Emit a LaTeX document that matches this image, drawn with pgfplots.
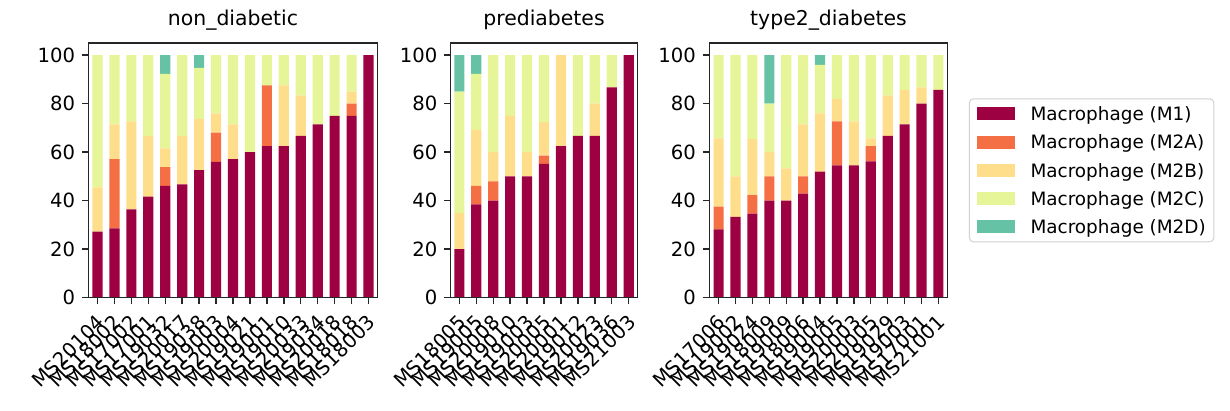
\documentclass[border=0pt]{standalone}
\usepackage{fontspec}
\setmainfont{DejaVu Sans}
\usepackage{pgfplots}
\usepackage{pgfplotstable}
\pgfplotsset{compat=1.18}
\definecolor{cMA}{RGB}{158,1,66}
\definecolor{cMB}{RGB}{245,111,68}
\definecolor{cMC}{RGB}{254,222,139}
\definecolor{cMD}{RGB}{230,245,152}
\definecolor{cME}{RGB}{102,194,165}
\definecolor{spine}{RGB}{38,38,38}

\pgfplotstableread{
x name M1 M2A M2B M2C M2D
0 MS20104 27.27 0 18.18 54.55 0
1 MS18002 28.57 28.57 14.29 28.57 0
2 MS17002 36.36 0 36.36 27.27 0
3 MS17001 41.67 0 25.00 33.33 0
4 MS19032 46.15 7.69 7.69 30.77 7.69
5 MS20017 46.67 0 20.00 33.33 0
6 MS19038 52.63 0 21.05 21.05 5.26
7 MS19003 56.00 12.00 8.00 24.00 0
8 MS20004 57.14 0 14.29 28.57 0
9 MS19021 60.00 0 0 40.00 0
10 MS19001 62.50 25.00 0 12.50 0
11 MS19010 62.50 0 25.00 12.50 0
12 MS20033 66.67 0 16.67 16.67 0
13 MS19034 71.43 0 0 28.57 0
14 MS20018 75.00 0 0 25.00 0
15 MS18018 75.00 5.00 5.00 15.00 0
16 MS18003 100 0 0 0 0
}\tA

\pgfplotstableread{
x name M1 M2A M2B M2C M2D
0 MS18005 20.00 0 15.00 50.00 15.00
1 MS19005 38.46 7.69 23.08 23.08 7.69
2 MS20008 40.00 8.00 12.00 40.00 0
3 MS19010 50.00 0 25.00 25.00 0
4 MS19003 50.00 0 10.00 40.00 0
5 MS20005 55.17 3.45 13.79 27.59 0
6 MS20001 62.50 0 37.50 0 0
7 MS19012 66.67 0 0 33.33 0
8 MS20023 66.67 0 13.33 20.00 0
9 MS19036 86.67 0 0 13.33 0
10 MS21003 100 0 0 0 0
}\tB

\pgfplotstableread{
x name M1 M2A M2B M2C M2D
0 MS17006 28.13 9.38 28.13 34.38 0
1 MS19002 33.33 0 16.67 50.00 0
2 MS19024 34.62 7.69 23.08 34.62 0
3 MS18009 40.00 10.00 10.00 20.00 20.00
4 MS19009 40.00 0 13.33 46.67 0
5 MS18006 42.86 7.14 21.43 28.57 0
6 MS19004 52.00 0 24.00 20.00 4.00
7 MS19005 54.55 18.18 9.09 18.18 0
8 MS20003 54.55 0 18.18 27.27 0
9 MS20005 56.25 6.25 3.13 34.38 0
10 MS19029 66.67 0 16.67 16.67 0
11 MS19003 71.43 0 14.29 14.29 0
12 MS17001 80.00 0 6.67 13.33 0
13 MS21001 85.71 0 0 14.29 0
}\tC

\pgfplotsset{
  panel/.style={
    ybar stacked, bar width=0.6,
    scale only axis, height=127.35pt,
    ymin=0, ymax=105, ytick={0,20,40,60,80,100},
    enlarge x limits=false,
    tick align=outside, tick pos=left, major tick length=3.2pt,
    axis line style={spine, line width=0.75pt},
    every tick/.style={spine, line width=0.7pt},
    tick label style={font=\fontsize{9.8}{11}\selectfont, text=black},
    /pgf/number format/assume math mode=true,
    xticklabel style={rotate=45, anchor=north east, inner sep=1pt, xshift=-3pt, yshift=-1.5pt},
    title style={font=\fontsize{10.2}{12}\selectfont, anchor=base, at={(0.5,1)}, yshift=2.65pt},
    axis on top,
  },
  lg/.style={legend image code/.code={\fill[#1, /tikz/.cd, draw=none, rounded corners=0pt] (0pt,-3.25pt) rectangle (18.7pt,3.25pt);}},
}

\begin{document}
\begin{tikzpicture}
\useasboundingbox (0,0) rectangle (615pt,-205.5pt);

\begin{axis}[panel, at={(44.25pt,-21.5pt)}, anchor=north west, width=144.5pt,
  xmin=-0.53, xmax=16.53, xtick={0,...,16}, xticklabels from table={\tA}{name},
  title={non\_diabetic}]
\addplot[fill=cMA, draw=none] table[x=x, y=M1] {\tA};
\addplot[fill=cMB, draw=none] table[x=x, y=M2A] {\tA};
\addplot[fill=cMC, draw=none] table[x=x, y=M2B] {\tA};
\addplot[fill=cMD, draw=none] table[x=x, y=M2C] {\tA};
\addplot[fill=cME, draw=none] table[x=x, y=M2D] {\tA};
\end{axis}

\begin{axis}[panel, at={(225.35pt,-21.5pt)}, anchor=north west, width=93.3pt,
  xmin=-0.51, xmax=10.51, xtick={0,...,10}, xticklabels from table={\tB}{name},
  title={prediabetes}]
\addplot[fill=cMA, draw=none] table[x=x, y=M1] {\tB};
\addplot[fill=cMB, draw=none] table[x=x, y=M2A] {\tB};
\addplot[fill=cMC, draw=none] table[x=x, y=M2B] {\tB};
\addplot[fill=cMD, draw=none] table[x=x, y=M2C] {\tB};
\addplot[fill=cME, draw=none] table[x=x, y=M2D] {\tB};
\end{axis}

\begin{axis}[panel, at={(354.65pt,-21.5pt)}, anchor=north west, width=119.2pt,
  xmin=-0.55, xmax=13.55, xtick={0,...,13}, xticklabels from table={\tC}{name},
  title={type2\_diabetes},
  legend cell align=left,
  legend style={at={(1.089,0.5)}, anchor=west, draw=black!18, line width=0.5pt,
    rounded corners=2pt, inner xsep=4pt, inner ysep=1.8pt,
    font=\fontsize{9.2}{11}\selectfont, row sep=2.85pt,
    nodes={inner sep=0pt, text height=9.0pt, text depth=2.3pt, anchor=west},
    /tikz/every odd column/.style={column sep=7.85pt}}]
\addplot[fill=cMA, draw=none, lg] table[x=x, y=M1] {\tC};
\addplot[fill=cMB, draw=none, lg] table[x=x, y=M2A] {\tC};
\addplot[fill=cMC, draw=none, lg] table[x=x, y=M2B] {\tC};
\addplot[fill=cMD, draw=none, lg] table[x=x, y=M2C] {\tC};
\addplot[fill=cME, draw=none, lg] table[x=x, y=M2D] {\tC};
\legend{Macrophage (M1), Macrophage (M2A), Macrophage (M2B), Macrophage (M2C), Macrophage (M2D)}
\end{axis}
\end{tikzpicture}
\end{document}
